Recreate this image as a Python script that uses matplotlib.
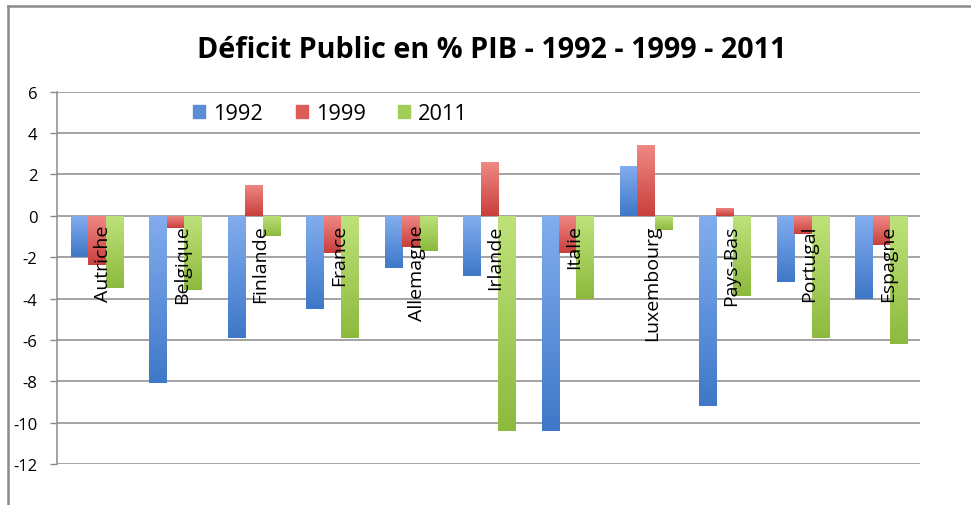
import numpy as np
import matplotlib
matplotlib.use("Agg")
import matplotlib.pyplot as plt
from matplotlib.lines import Line2D
from matplotlib.colors import LinearSegmentedColormap

categories = ["Autriche", "Belgique", "Finlande", "France", "Allemagne", "Irlande",
              "Italie", "Luxembourg", "Pays-Bas", "Portugal", "Espagne"]
v1992 = [-2.0, -8.1, -5.9, -4.5, -2.5, -2.9, -10.4, 2.4, -9.2, -3.2, -4.0]
v1999 = [-2.4, -0.6, 1.5, -1.8, -1.5, 2.6, -1.8, 3.4, 0.4, -0.9, -1.4]
v2011 = [-3.5, -3.6, -1.0, -5.9, -1.7, -10.4, -4.0, -0.7, -3.9, -5.9, -6.2]
series_names = ["1992", "1999", "2011"]
yticks = [6, 4, 2, 0, -2, -4, -6, -8, -10, -12]
title = "Déficit Public en % PIB - 1992 - 1999 - 2011"

colors = ["#5B8ED6", "#DE5C58", "#A3CC5A"]
grad = [("#82ADEF", "#3F78C8"), ("#F08884", "#C9403D"), ("#BEE27A", "#8DBA3E")]

plt.rcParams['font.family'] = ['Open Sans', 'DejaVu Sans']

fig = plt.figure(figsize=(9.71, 5.06), dpi=100)
W, H = 971, 506
ax = fig.add_axes([57 / W, 1 - 465 / H, (920 - 57) / W, (465 - 92.7) / H])

x = np.arange(len(categories))
bw = 0.222
for k, (vals, name, c, g) in enumerate(zip([v1992, v1999, v2011], series_names, colors, grad)):
    bars = ax.bar(x + (k - 1) * bw + 0.01, vals, bw, color=c, label=name, zorder=3, linewidth=0)
    cmap = LinearSegmentedColormap.from_list("g%d" % k, [g[0], g[1]])
    for p in bars.patches:
        x0, y0 = p.get_x(), p.get_y()
        w, h = p.get_width(), p.get_height()
        ylo, yhi = min(y0, y0 + h), max(y0, y0 + h)
        im = ax.imshow(np.linspace(0, 1, 64).reshape(-1, 1), cmap=cmap, aspect='auto',
                       extent=[x0, x0 + w, ylo, yhi], origin='upper', zorder=3.5,
                       interpolation='bilinear')
        im.set_clip_path(p)

ax.set_xlim(-0.5, len(categories) - 0.5)
ax.set_ylim(-12, 6)
ax.set_yticks(yticks)
ax.set_yticklabels([str(t) for t in yticks], fontsize=12)
ax.yaxis.grid(True, color="#8a8a8a", linewidth=1.1, zorder=0)
ax.set_axisbelow(True)
ax.tick_params(axis='y', length=5, width=1, color="#8a8a8a", pad=9)

for s in ["top", "right"]:
    ax.spines[s].set_visible(False)
ax.spines['left'].set_color("#8a8a8a")
ax.spines['left'].set_linewidth(1.1)
ax.spines['bottom'].set_position(('data', 0))
ax.spines['bottom'].set_visible(False)
ax.set_xticks(x + 0.09)
ax.set_xticklabels(categories, rotation=90, fontsize=14, va='top', ha='center')
ax.tick_params(axis='x', length=0, pad=6)
ax.xaxis.set_zorder(5)

handles = [plt.Rectangle((0, 0), 1, 1, color=c) for c in colors]
fig.legend(handles, series_names, loc='center left', bbox_to_anchor=(193 / W, 1 - 115 / H),
           ncol=3, frameon=False, fontsize=15.7, handlelength=0.55, handleheight=0.55,
           handletextpad=0.37, columnspacing=1.5, borderpad=0, borderaxespad=0)

t = fig.text(492 / W, 1 - 50 / H, title, ha='center', va='center', fontsize=21, fontweight='bold')
fig.canvas.draw()
bb = t.get_window_extent()
t.set_fontsize(21 * 591 / bb.width)

fig.add_artist(Line2D([7.5 / W, 1.0], [1 - 6.5 / H, 1 - 6.5 / H], color="#8a8a8a", linewidth=1.8,
                      transform=fig.transFigure))
fig.add_artist(Line2D([7.5 / W, 7.5 / W], [0, 1 - 6.5 / H], color="#8a8a8a", linewidth=1.8,
                      transform=fig.transFigure))

fig.savefig("out.png", dpi=100)
